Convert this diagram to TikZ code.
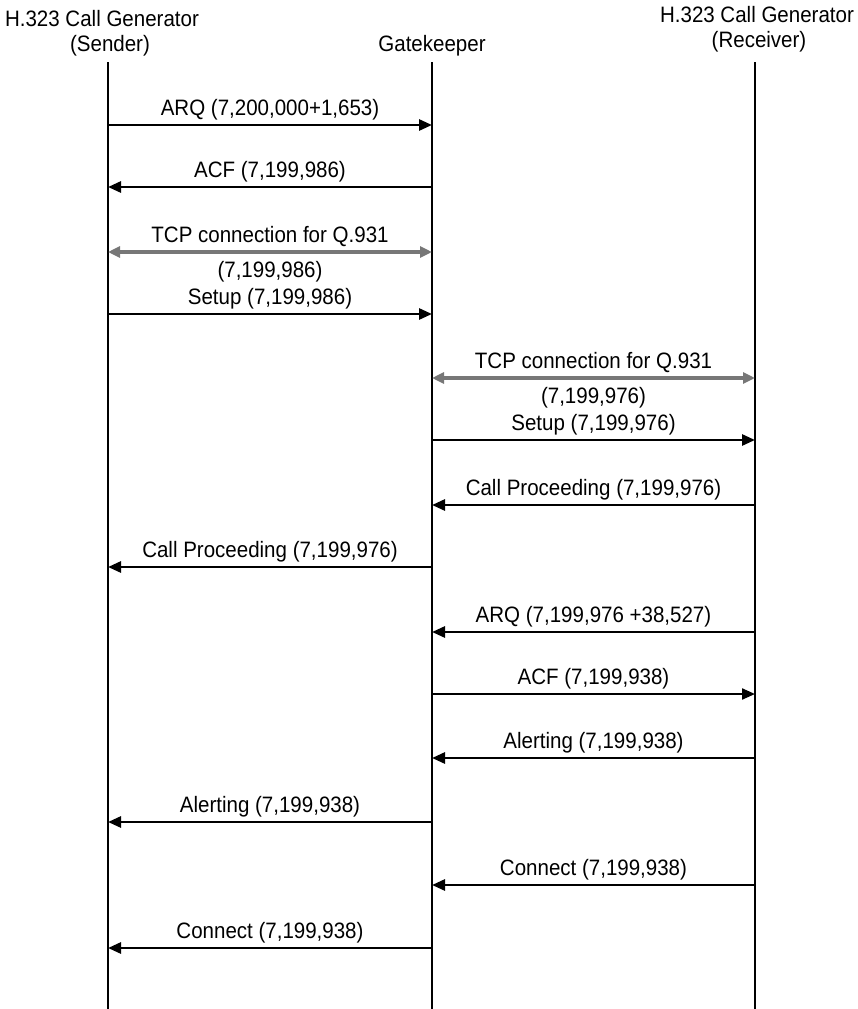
\documentclass[tikz,border=0pt]{standalone}
\usepackage{fontspec}
\setmainfont{Liberation Sans}[FakeStretch=0.92]
\usetikzlibrary{arrows.meta}
\definecolor{tcpgray}{HTML}{777777}
\begin{document}
\begin{tikzpicture}[x=1pt,y=-1pt,
  font=\fontsize{22.3}{26}\selectfont,
  life/.style={line width=2pt},
  msg/.style={line width=2.8pt,-{Triangle[length=13pt,width=11pt]}},
  thinmsg/.style={line width=2.2pt,-{Triangle[length=13pt,width=11pt]}},
  tcp/.style={line width=3.6pt,draw=tcpgray,{Triangle[length=12pt,width=11pt]}-{Triangle[length=12pt,width=11pt]}},
  lbl/.style={anchor=base,inner sep=0pt},
  up/.style={midway,anchor=base,inner sep=0pt,yshift=10pt},
  down/.style={midway,anchor=base,inner sep=0pt,yshift=-25pt}]
\useasboundingbox (0,0) rectangle (858,1009);

% headers
\node[lbl] (h1a) at (102,26) {H.323 Call Generator};
\node[lbl] (h1b) at (110,51) {(Sender)};
\node[lbl] (h2)  at (432,51) {Gatekeeper};
\node[lbl] (h3a) at (757,23) {H.323 Call Generator};
\node[lbl] (h3b) at (759,47) {(Receiver)};

% lifelines
\coordinate (sT) at (108,62);  \coordinate (sB) at (108,1009);
\coordinate (gT) at (432,62);  \coordinate (gB) at (432,1009);
\coordinate (rT) at (755,62);  \coordinate (rB) at (755,1009);
\draw[life] (sT) -- (sB);
\draw[life] (gT) -- (gB);
\draw[life] (rT) -- (rB);

% message anchor points
\foreach \n/\y in {1/125,2/187,3/252,4/314,5/378,6/440,7/505,8/567,9/632,10/694,11/758,12/822,13/885,14/948}{
  \coordinate (s\n) at (108,\y);
  \coordinate (g\n) at (432,\y);
  \coordinate (r\n) at (755,\y);
}

\draw[msg] (s1) -- node[up] {ARQ (7,200,000+1,653)} (g1);
\draw[msg] (g2) -- node[up] {ACF (7,199,986)} (s2);
\draw[tcp] (s3) -- node[up] {TCP connection for Q.931} node[down] {(7,199,986)} (g3);
\draw[msg] (s4) -- node[up] {Setup (7,199,986)} (g4);
\draw[tcp] (g5) -- node[up] {TCP connection for Q.931} node[down] {(7,199,976)} (r5);
\draw[msg] (g6) -- node[up] {Setup (7,199,976)} (r6);
\draw[msg] (r7) -- node[up] {Call Proceeding (7,199,976)} (g7);
\draw[msg] (g8) -- node[up] {Call Proceeding (7,199,976)} (s8);
\draw[msg] (r9) -- node[up] {ARQ (7,199,976 +38,527)} (g9);
\draw[thinmsg] (g10) -- node[up] {ACF (7,199,938)} (r10);
\draw[msg] (r11) -- node[up] {Alerting (7,199,938)} (g11);
\draw[msg] (g12) -- node[up] {Alerting (7,199,938)} (s12);
\draw[msg] (r13) -- node[up] {Connect (7,199,938)} (g13);
\draw[msg] (g14) -- node[up] {Connect (7,199,938)} (s14);
\end{tikzpicture}
\end{document}
